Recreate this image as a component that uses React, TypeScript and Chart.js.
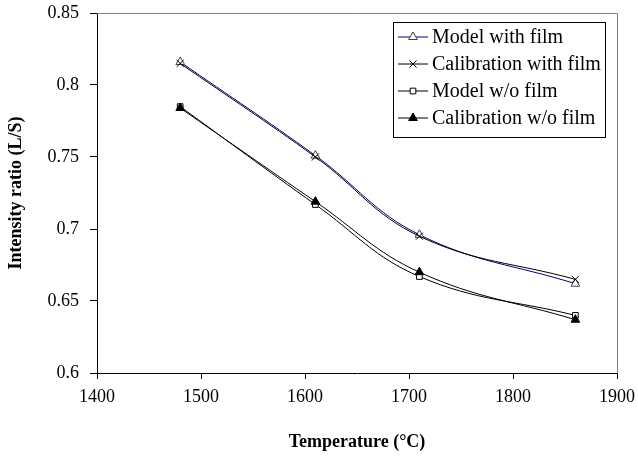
import React, { useEffect, useRef } from "react";
import { Chart, registerables } from "chart.js";
import { drawPoint } from "chart.js/helpers";

Chart.register(...registerables);

const temperatures = [1480, 1610, 1710, 1860];
const modelWithFilm = [0.816, 0.751, 0.696, 0.662];
const calibWithFilm = [0.815, 0.750, 0.695, 0.665];
const modelWoFilm = [0.785, 0.717, 0.667, 0.640];
const calibWoFilm = [0.784, 0.719, 0.670, 0.637];
const seriesNames = ["Model with film", "Calibration with film", "Model w/o film", "Calibration w/o film"];
const xTitle = "Temperature (\u00B0C)";
const yTitle = "Intensity ratio (L/S)";

const FONT = "'Liberation Serif', 'Times New Roman', serif";

const toPts = (ys: number[]) => temperatures.map((x, i) => ({ x, y: ys[i] }));

const framePlugin = {
  id: "frame",
  afterDatasetsDraw(chart: any) {
    const { ctx, chartArea: a } = chart;
    ctx.save();
    ctx.strokeStyle = "#808080";
    ctx.lineWidth = 1;
    ctx.beginPath();
    ctx.moveTo(a.left, Math.round(a.top) + 0.5);
    ctx.lineTo(Math.round(a.right) + 0.5, Math.round(a.top) + 0.5);
    ctx.lineTo(Math.round(a.right) + 0.5, a.bottom);
    ctx.stroke();
    ctx.restore();
  },
};

const legendPlugin = {
  id: "boxLegend",
  afterDraw(chart: any) {
    const { ctx, chartArea: a } = chart;
    const boxRight = a.right - 12;
    const boxLeft = boxRight - 212;
    const boxTop = a.top + 8.5;
    const boxBottom = boxTop + 115;
    ctx.save();
    ctx.fillStyle = "#fff";
    ctx.fillRect(boxLeft, boxTop, boxRight - boxLeft, boxBottom - boxTop);
    ctx.strokeStyle = "#000";
    ctx.lineWidth = 1;
    ctx.strokeRect(Math.round(boxLeft) + 0.5, Math.round(boxTop) + 0.5, boxRight - boxLeft, boxBottom - boxTop);
    const order = [0, 1, 2, 3];
    order.forEach((di, row) => {
      const ds = chart.data.datasets[di];
      const y = boxTop + 15 + row * 27;
      ctx.strokeStyle = ds.borderColor;
      ctx.lineWidth = 1;
      ctx.beginPath();
      ctx.moveTo(boxLeft + 5, y + 0.5);
      ctx.lineTo(boxLeft + 35, y + 0.5);
      ctx.stroke();
      ctx.fillStyle = ds.pointBackgroundColor;
      ctx.strokeStyle = ds.pointBorderColor;
      drawPoint(ctx, { pointStyle: ds.pointStyle, radius: ds.pointRadius, rotation: 0, borderWidth: 1 }, boxLeft + 20, y + 0.5);
      ctx.fillStyle = "#000";
      ctx.font = `20px ${FONT}`;
      ctx.textBaseline = "middle";
      ctx.textAlign = "left";
      ctx.fillText(ds.label, boxLeft + 39, y + 1);
    });
    ctx.restore();
  },
};

export default function App() {
  const ref = useRef<HTMLCanvasElement | null>(null);
  useEffect(() => {
    if (!ref.current) return;
    const chart = new Chart(ref.current, {
      type: "line",
      data: {
        datasets: [
          {
            label: seriesNames[0],
            data: toPts(modelWithFilm),
            borderColor: "#000080",
            borderWidth: 1,
            pointStyle: "triangle",
            pointRadius: 5,
            pointBackgroundColor: "#fff",
            pointBorderColor: "#404040",
            pointBorderWidth: 1,
            tension: 0.4,
            order: 2,
          },
          {
            label: seriesNames[1],
            data: toPts(calibWithFilm),
            borderColor: "#000",
            borderWidth: 1,
            pointStyle: "crossRot",
            pointRadius: 5,
            pointBackgroundColor: "#000",
            pointBorderColor: "#000",
            pointBorderWidth: 1,
            tension: 0.4,
            order: 1,
          },
          {
            label: seriesNames[2],
            data: toPts(modelWoFilm),
            borderColor: "#000",
            borderWidth: 1,
            pointStyle: "rect",
            pointRadius: 4,
            pointBackgroundColor: "#fff",
            pointBorderColor: "#000",
            pointBorderWidth: 1,
            tension: 0.4,
            order: 2,
          },
          {
            label: seriesNames[3],
            data: toPts(calibWoFilm),
            borderColor: "#000",
            borderWidth: 1,
            pointStyle: "triangle",
            pointRadius: 5,
            pointBackgroundColor: "#000",
            pointBorderColor: "#000",
            pointBorderWidth: 1,
            tension: 0.4,
            order: 1,
          },
        ],
      },
      options: {
        responsive: false,
        animation: false,
        layout: { padding: { left: 0, right: 21, top: 13, bottom: 0 } },
        plugins: { legend: { display: false }, tooltip: { enabled: false } },
        scales: {
          x: {
            type: "linear",
            min: 1400,
            max: 1900,
            afterFit: (s: any) => { s.height = 86; s.paddingLeft = 0; s.paddingRight = 0; },
            ticks: {
              stepSize: 100,
              color: "#000",
              font: { family: FONT, size: 18 },
              padding: 7,
              maxRotation: 0,
              callback: (v: any) => String(v),
            },
            grid: { drawOnChartArea: false, tickLength: 6, color: "#000" },
            border: { color: "#000", width: 1 },
            title: { display: true, text: xTitle, color: "#000", font: { family: FONT, size: 18, weight: "bold" }, padding: { top: 0, bottom: 6 } },
          },
          y: {
            type: "linear",
            min: 0.6,
            max: 0.85,
            afterFit: (s: any) => { s.width = 97; s.paddingTop = 0; s.paddingBottom = 0; },
            ticks: {
              stepSize: 0.05,
              color: "#000",
              font: { family: FONT, size: 18 },
              padding: 11,
              callback: (v: any) => String(Number(Number(v).toFixed(2))),
            },
            grid: { drawOnChartArea: false, tickLength: 7, color: "#000" },
            border: { color: "#000", width: 1 },
            title: { display: true, text: yTitle, color: "#000", font: { family: FONT, size: 18, weight: "bold" }, padding: { top: 6, bottom: 0 } },
          },
        },
      },
      plugins: [framePlugin, legendPlugin],
    });
    return () => chart.destroy();
  }, []);
  return (
    <div style={{ position: "fixed", left: 0, top: 0, width: 638, height: 459, background: "#fff" }}>
      <canvas ref={ref} width={638} height={459} style={{ width: 638, height: 459, display: "block" }} />
    </div>
  );
}
